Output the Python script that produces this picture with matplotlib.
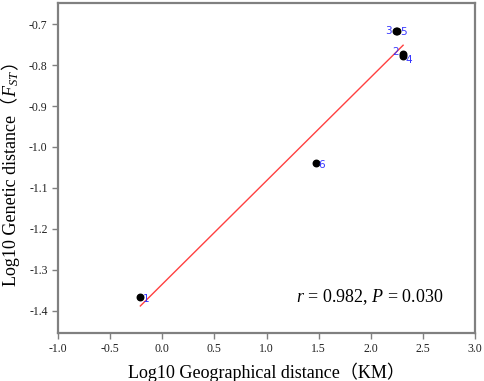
import numpy as np
import matplotlib
matplotlib.use('Agg')
import matplotlib.pyplot as plt
from matplotlib.transforms import IdentityTransform

# population points
labels = ['1', '2', '3', '4', '5', '6']
geo_dist = [-0.21, 2.31, 2.245, 2.31, 2.25, 1.47]
gen_dist = [-1.366, -0.773, -0.716, -0.778, -0.716, -1.040]

# where the number sits relative to its point (pixels)
label_off = {'1': (6, -2.5), '2': (-8, 2.5), '3': (-7.5, 0), '4': (6, -4), '5': (6.5, -1.5), '6': (6, -1.7)}

plt.rcParams['font.family'] = ['Liberation Serif', 'Noto Sans CJK SC']
plt.rcParams['mathtext.fontset'] = 'custom'
plt.rcParams['mathtext.rm'] = 'Liberation Serif'
plt.rcParams['mathtext.it'] = 'Liberation Serif:italic'

fig = plt.figure(figsize=(4.84, 3.81), dpi=100)
ax = fig.add_axes([0.1198, 0.126, 0.8617, 0.866])

x = np.array(geo_dist)
y = np.array(gen_dist)

# linear fit
k, b = np.polyfit(x, y, 1)
xf = np.array([x.min(), x.max()])
ax.plot(xf, k * xf + b, color='#ff4040', lw=1.0, zorder=2)

ax.scatter(x, y, s=22, color='black', zorder=3)
for lab, xi, yi in zip(labels, geo_dist, gen_dist):
    dx, dy = label_off[lab]
    ax.annotate(lab, (xi, yi), xytext=(dx, dy), textcoords='offset pixels',
                color='#3535ff', fontsize=7.5, family=['DejaVu Sans'],
                ha='center', va='center')

ax.text(1.28, -1.366, r'$r$ = 0.982, $P$ = 0.030', fontsize=13, va='center')

ax.set_xlim(-1.0, 3.0)
ax.set_ylim(-1.455, -0.648)
xt = np.arange(-1.0, 3.01, 0.5)
yt = np.arange(-1.4, -0.69, 0.1)
ax.set_xticks(xt)
ax.set_yticks(yt)
ax.set_xticklabels([f'{v:.1f}' for v in xt])
ax.set_yticklabels([f'{v:.1f}' for v in yt])

for s in ax.spines.values():
    s.set_color('#808080')
    s.set_linewidth(1.6)
ax.tick_params(direction='out', length=4, width=1, color='#808080', labelsize=8.5,
               labelcolor='#222222')

fig.text(0.55, 1 - 372 / 381, 'Log10 Geographical distance（KM）', fontsize=13,
         ha='center', va='center')

# y label in pieces so the full-width brackets and the math subscript both render
fig.canvas.draw()
renderer = fig.canvas.get_renderer()
pieces = ['Log10 Genetic distance（', '$F_{ST}$', '）']
px, py = 16, 95
for p in pieces:
    t = fig.text(px, py, p, fontsize=13, rotation=90, rotation_mode='anchor',
                 ha='left', va='baseline', transform=IdentityTransform())
    py += t.get_window_extent(renderer).height

fig.savefig('out.png', dpi=100)
